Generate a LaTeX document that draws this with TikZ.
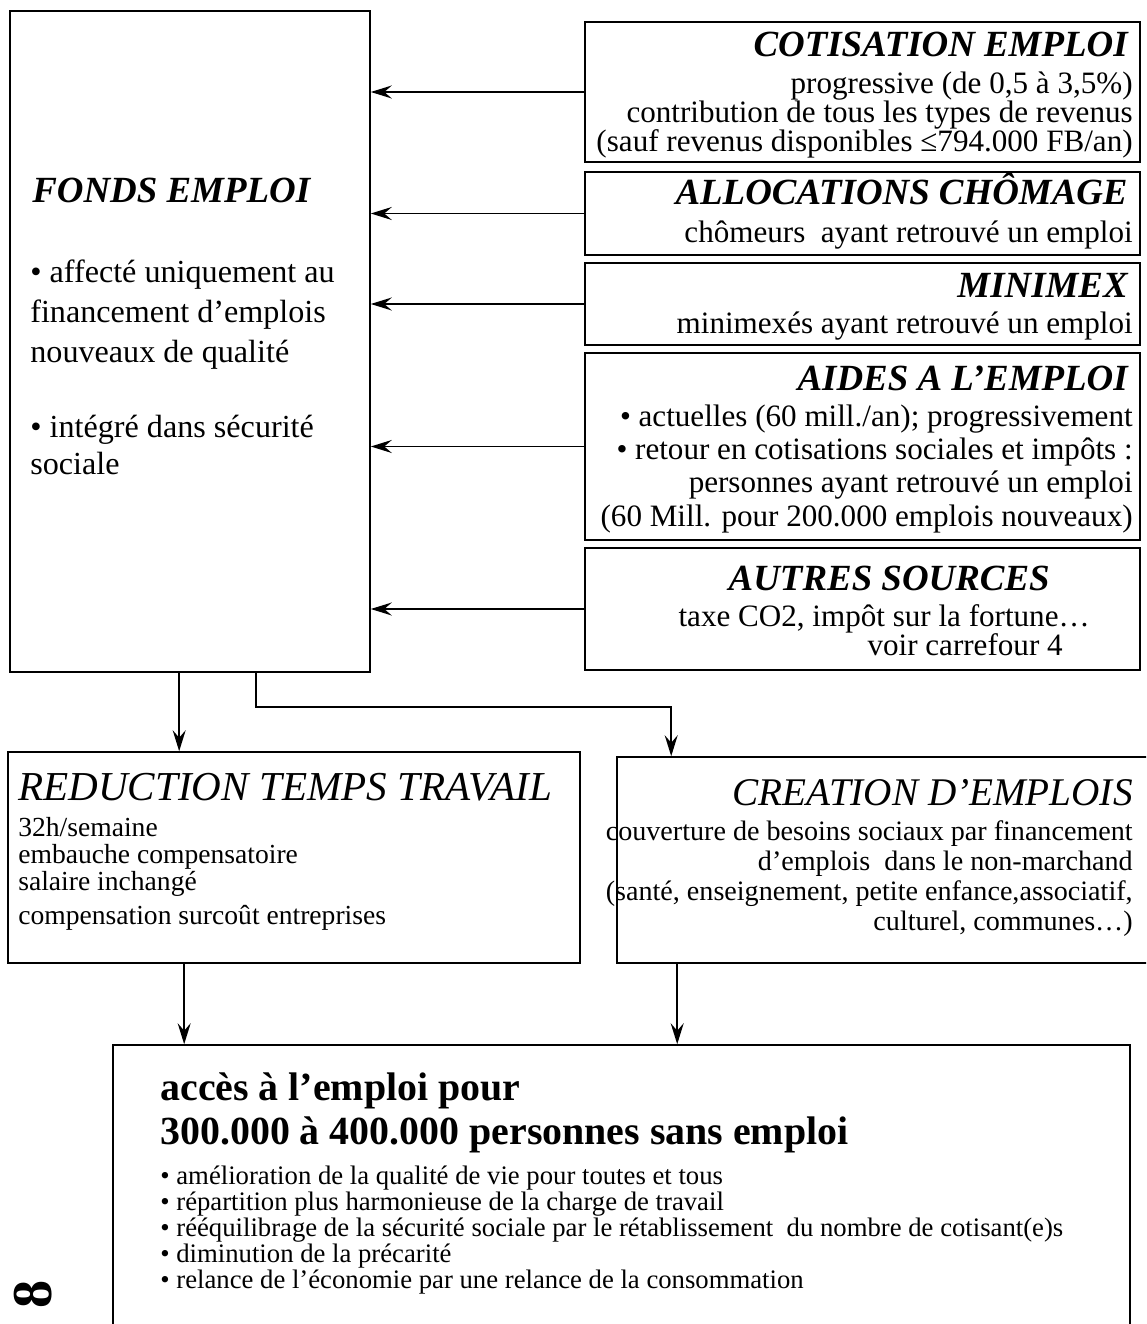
\documentclass[tikz,border=0pt]{standalone}
\usepackage{fontspec}
\setmainfont{Liberation Serif}
\usepackage{tikz}
\usetikzlibrary{positioning,arrows.meta,calc,fit}
\setlength{\lineskiplimit}{-\maxdimen}

\begin{document}
\begin{tikzpicture}[x=0.02cm, y=-0.02cm,
    frame/.style={draw, line width=0.9pt, inner sep=0pt},
    ttl/.style={font=\fontsize{21}{24}\selectfont\bfseries\itshape, inner sep=0pt},
    src/.style={font=\fontsize{17.7}{16.6}\selectfont, align=right, inner sep=0pt},
    body/.style={font=\fontsize{16}{17}\selectfont, inner sep=0pt},
    arrow/.style={-{Stealth[length=4.2mm, width=2.6mm, inset=1.5mm]}, line width=0.9pt}
]
\clip (0,0) rectangle (1146,1324);

\node[frame, fit={(10,11) (370,672)}]     (fonds)   {};
\node[frame, fit={(585,22) (1140,162)}]   (cotis)   {};
\node[frame, fit={(585,172) (1140,255)}]  (alloc)   {};
\node[frame, fit={(585,263) (1140,345)}]  (minimex) {};
\node[frame, fit={(585,353) (1140,540)}]  (aides)   {};
\node[frame, fit={(585,548) (1140,670)}]  (autres)  {};
\node[frame, fit={(8,752) (580,963)}]     (rtt)     {};
\node[frame, fit={(617,757) (1160,963)}]  (creat)   {};
\node[frame, fit={(113,1045) (1130,1400)}] (bilan)  {};

% fonds emploi
\node[font=\fontsize{21}{24}\selectfont\bfseries\itshape, inner sep=0pt, anchor=base west]
    (fondsT) at (32,203) {FONDS EMPLOI};
\node[font=\fontsize{18.3}{22.7}\selectfont, align=left, inner sep=0pt, anchor=base west]
    (fondsA) at (30,362) {• affecté uniquement au\\financement d’emplois\\nouveaux de qualité};
\node[font=\fontsize{18.3}{21}\selectfont, align=left, inner sep=0pt, anchor=base west]
    (fondsB) at (30,474) {• intégré dans sécurité\\sociale};

% sources
\node[ttl, anchor=base east] (cotisT) at (1128,57) {COTISATION EMPLOI};
\node[src, anchor=base east] (cotisB) at (1133,152) {progressive (de 0,5 à 3,5\%)\\contribution de tous les types de revenus\\(sauf revenus disponibles ≤794.000 FB/an)};
\node[ttl, anchor=base east] (allocT) at (1128,205) {ALLOCATIONS CHÔMAGE};
\node[src, anchor=base east] (allocB) at (1133,243) {chômeurs\ \ ayant retrouvé un emploi};
\node[ttl, anchor=base east] (minimexT) at (1128,297) {MINIMEX};
\node[src, anchor=base east] (minimexB) at (1133,334) {minimexés ayant retrouvé un emploi};
\node[ttl, anchor=base east] (aidesT) at (1128,390) {AIDES A L’EMPLOI};
\node[src, font=\fontsize{17.7}{18.9}\selectfont, anchor=base east] (aidesB) at (1133,526)
    {• actuelles (60 mill./an); progressivement\\• retour en cotisations sociales et impôts :\\personnes ayant retrouvé un emploi\\(60 Mill. pour 200.000 emplois nouveaux)};
\node[ttl, anchor=base east] (autresT) at (1050,590) {AUTRES SOURCES};
\node[src, anchor=base east] (autresB) at (1090,626) {taxe CO2, impôt sur la fortune…};
\node[src, anchor=base east] (autresC) at (1063,655) {voir carrefour 4};

% reduction / creation
\node[font=\fontsize{23.4}{24}\selectfont\itshape, inner sep=0pt, anchor=base west] (rttT) at (18,800) {REDUCTION TEMPS TRAVAIL};
\node[body, font=\fontsize{15.7}{15.3}\selectfont, align=left, anchor=base west] (rttB) at (18,890)
    {32h/semaine\\embauche compensatoire\\salaire inchangé};
\node[body, font=\fontsize{15.7}{15.3}\selectfont, anchor=base west] (rttC) at (18,924) {compensation surcoût entreprises};
\node[font=\fontsize{22.3}{24}\selectfont\itshape, inner sep=0pt, anchor=base east] (creatT) at (1133,805) {CREATION D’EMPLOIS};
\node[body, align=right, anchor=base east] (creatB) at (1133,930)
    {couverture de besoins sociaux par financement\\d’emplois\ \ dans le non-marchand\\(santé, enseignement, petite enfance,associatif,\\culturel, communes…)};

% resultat
\node[font=\fontsize{22.7}{25}\selectfont\bfseries, align=left, inner sep=0pt, anchor=base west] (bilanT) at (160,1144)
    {accès à l’emploi pour\\300.000 à 400.000 personnes sans emploi};
\node[font=\fontsize{15.2}{14.7}\selectfont, align=left, inner sep=0pt, anchor=base west] (bilanB) at (160,1288)
    {• amélioration de la qualité de vie pour toutes et tous\\
     • répartition plus harmonieuse de la charge de travail\\
     • rééquilibrage de la sécurité sociale par le rétablissement\ \ du nombre de cotisant(e)s\\
     • diminution de la précarité\\
     • relance de l’économie par une relance de la consommation};

\node[font=\fontsize{32}{32}\selectfont\bfseries, rotate=90, inner sep=0pt] (pnum) at (33,1294) {8};

\foreach \s in {cotis,alloc,minimex,aides,autres}
    \draw[arrow] (\s.west) -- (\s.west -| fonds.east);

\draw[arrow] ([xshift=3.4cm]fonds.south west) -- ([xshift=3.4cm]fonds.south west |- rtt.north);
\draw[arrow] ([xshift=4.94cm]fonds.south west) -- ++(0,34) -| ([xshift=1.1cm]creat.north west);
\draw[arrow] ([xshift=3.54cm]rtt.south west) -- ([xshift=3.54cm]rtt.south west |- bilan.north);
\draw[arrow] ([xshift=1.22cm]creat.south west) -- ([xshift=1.22cm]creat.south west |- bilan.north);

\end{tikzpicture}
\end{document}
